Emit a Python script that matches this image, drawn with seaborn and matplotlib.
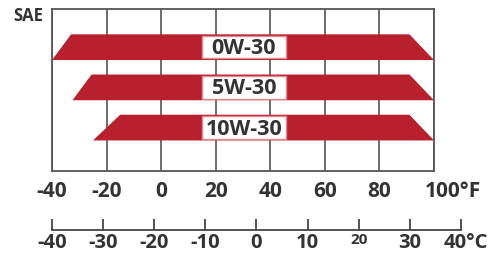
import matplotlib
matplotlib.use('Agg')
import matplotlib.pyplot as plt
import matplotlib.transforms as mtransforms
from matplotlib.patches import Rectangle
import seaborn as sns

# SAE grades and their temperature ranges (deg F)
grades = ['0W-30', '5W-30', '10W-30']
low_bottom = [-40, -32.5, -25]
low_top = [-33, -25.5, -15]
high_top = [91, 91, 91]
high_bottom = [100, 100, 100]

f_ticks = [-40, -20, 0, 20, 40, 60, 80, 100]
f_labels = ['-40', '-20', '0', '20', '40', '60', '80', '100°F']
c_ticks = [-40, -30, -20, -10, 0, 10, 20, 30, 40]
c_labels = ['-40', '-30', '-20', '-10', '0', '10', '20', '30', '40°C']

RED = '#b8202d'
TXT = '#333333'
LINE = '#555555'
FS = 15

sns.set_style('white')
plt.rcParams['font.family'] = ['Open Sans', 'DejaVu Sans']
plt.rcParams['axes.unicode_minus'] = False

fig = plt.figure(figsize=(4.89, 2.54), dpi=100)
ax = fig.add_axes([52/489, 83/254, 382/489, 162/254])
ax.set_xlim(-40, 100)
ax.set_ylim(3.08, -0.95)

h = 0.32      # half bar height
bh = 0.277    # half label box height
for i, g in enumerate(grades):
    xs = [low_bottom[i], low_top[i], high_top[i], high_bottom[i]]
    ys = [i + h, i - h, i - h, i + h]
    ax.fill(xs, ys, color=RED, lw=0, zorder=2)
    ax.add_patch(Rectangle((14.8, i - bh), 31.0, 2 * bh, facecolor='white',
                           edgecolor='#e08a90', lw=1, zorder=3))
    ax.text(30.3, i + 0.04, g, ha='center', va='center', fontsize=15.5,
            fontweight='bold', color=TXT, zorder=4)

ax.set_xticks(f_ticks)
ax.set_xticklabels(f_labels, fontweight='bold')
ax.set_yticks([])
ax.xaxis.grid(True, color=LINE, lw=1.2)
ax.set_axisbelow(True)
for s in ax.spines.values():
    s.set_visible(True)
    s.set_color(LINE)
    s.set_linewidth(1.3)
ax.tick_params(axis='x', bottom=False, length=0, pad=7, labelsize=FS, labelcolor=TXT)
lbl = ax.get_xticklabels()[-1]
lbl.set_ha('left')
lbl.set_transform(lbl.get_transform() + mtransforms.ScaledTranslation(-9/100, 0, fig.dpi_scale_trans))

# Celsius scale underneath
cax = fig.add_axes([52/489, 24/254, 409/489, 0.01])
cax.patch.set_visible(False)
cax.set_xlim(-40, 40)
cax.set_xticks(c_ticks)
cax.set_xticklabels(c_labels, fontweight='bold')
cax.set_yticks([])
for side in ['top', 'left', 'right']:
    cax.spines[side].set_visible(False)
cax.spines['bottom'].set_color('#444444')
cax.spines['bottom'].set_linewidth(1.3)
cax.tick_params(axis='x', bottom=True, direction='in', length=8, width=1.3,
                color='#444444', pad=2, labelsize=14.5, labelcolor=TXT)
cax.get_xticklabels()[6].set_fontsize(11)
clbl = cax.get_xticklabels()[-1]
clbl.set_ha('left')
clbl.set_transform(clbl.get_transform() + mtransforms.ScaledTranslation(-17/100, 0, fig.dpi_scale_trans))

fig.text(28/489, 1 - 16/254, 'SAE', ha='center', va='center', fontsize=12,
         fontweight='bold', color=TXT)

fig.savefig('out.png', dpi=100)
